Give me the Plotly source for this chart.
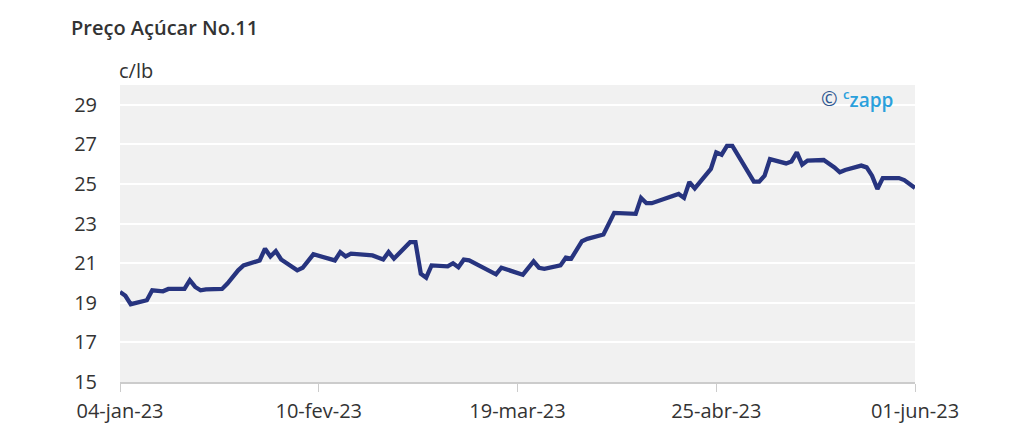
import plotly.graph_objects as go

dates = [
    "2023-01-04", "2023-01-05", "2023-01-06", "2023-01-09", "2023-01-10", "2023-01-12",
    "2023-01-13", "2023-01-16", "2023-01-17", "2023-01-18", "2023-01-19", "2023-01-20",
    "2023-01-23", "2023-01-24", "2023-01-26", "2023-01-27", "2023-01-30", "2023-01-31",
    "2023-02-01", "2023-02-02", "2023-02-03", "2023-02-06", "2023-02-07", "2023-02-09",
    "2023-02-13", "2023-02-14", "2023-02-15", "2023-02-16", "2023-02-20", "2023-02-22",
    "2023-02-23", "2023-02-24", "2023-02-27", "2023-02-28", "2023-03-01", "2023-03-02",
    "2023-03-03", "2023-03-06", "2023-03-07", "2023-03-08", "2023-03-09", "2023-03-10",
    "2023-03-15", "2023-03-16", "2023-03-20", "2023-03-22", "2023-03-23", "2023-03-24",
    "2023-03-27", "2023-03-28", "2023-03-29", "2023-03-31", "2023-04-01", "2023-04-04",
    "2023-04-06", "2023-04-10", "2023-04-11", "2023-04-12", "2023-04-13", "2023-04-18",
    "2023-04-19", "2023-04-20", "2023-04-21", "2023-04-24", "2023-04-25", "2023-04-26",
    "2023-04-27", "2023-04-28", "2023-05-02", "2023-05-03", "2023-05-04", "2023-05-05",
    "2023-05-08", "2023-05-09", "2023-05-10", "2023-05-11", "2023-05-12", "2023-05-15",
    "2023-05-17", "2023-05-18", "2023-05-19", "2023-05-22", "2023-05-23", "2023-05-24",
    "2023-05-25", "2023-05-26", "2023-05-29", "2023-05-30", "2023-06-01",
]
prices = [
    19.55, 19.35, 18.93, 19.13, 19.63, 19.58,
    19.70, 19.70, 20.14, 19.80, 19.63, 19.68,
    19.70, 19.97, 20.64, 20.89, 21.14, 21.73,
    21.34, 21.61, 21.19, 20.64, 20.77, 21.45,
    21.14, 21.56, 21.34, 21.48, 21.39, 21.19,
    21.56, 21.23, 22.06, 22.06, 20.47, 20.27,
    20.89, 20.84, 21.00, 20.80, 21.18, 21.14,
    20.44, 20.77, 20.42, 21.09, 20.77, 20.72,
    20.89, 21.28, 21.23, 22.11, 22.23, 22.45,
    23.54, 23.49, 24.30, 24.03, 24.03, 24.50,
    24.30, 25.10, 24.78, 25.76, 26.60, 26.48,
    26.93, 26.93, 25.12, 25.12, 25.42, 26.26,
    26.04, 26.14, 26.60, 25.98, 26.18, 26.21,
    25.84, 25.59, 25.71, 25.93, 25.84, 25.42,
    24.75, 25.30, 25.30, 25.20, 24.80,
]

x_tick_vals = ["2023-01-04", "2023-02-10", "2023-03-19", "2023-04-25", "2023-06-01"]
x_tick_text = ["04-jan-23", "10-fev-23", "19-mar-23", "25-abr-23", "01-jun-23"]
y_tick_vals = [15, 17, 19, 21, 23, 25, 27, 29]

FONT = "Open Sans"
TXT = "#333333"

fig = go.Figure()
fig.add_trace(go.Scatter(
    x=dates, y=prices, mode="lines",
    line=dict(color="#27347f", width=4.3),
    hoverinfo="x+y",
))

fig.update_layout(
    width=1022, height=431,
    margin=dict(l=112, r=115, t=77, b=57),
    paper_bgcolor="white",
    plot_bgcolor="#f1f1f1",
    showlegend=False,
    font=dict(family=FONT, size=20, color=TXT),
    xaxis=dict(
        range=["2023-01-04", "2023-06-01"],
        tickvals=x_tick_vals, ticktext=x_tick_text,
        showgrid=False, zeroline=False,
        showline=True, linecolor="#cccccc", linewidth=2,
        ticks="outside", ticklen=8, tickcolor="#cccccc", tickwidth=1,
        ticklabelstandoff=2,
        tickfont=dict(family=FONT, size=20, color=TXT),
    ),
    yaxis=dict(
        range=[15, 30],
        tickvals=y_tick_vals,
        showgrid=True, gridcolor="white", gridwidth=2,
        zeroline=False, showline=False,
        ticks="", ticklabelstandoff=22,
        tickfont=dict(family=FONT, size=20, color=TXT),
    ),
    annotations=[
        dict(text="Preço Açúcar No.11", xref="paper", yref="paper",
             x=-0.064, y=1.0, xanchor="left", yanchor="middle",
             yshift=58, showarrow=False,
             font=dict(family=FONT, size=20, color=TXT, weight=600)),
        dict(text="c/lb", xref="paper", yref="paper",
             x=-0.004, y=1.0, xanchor="left", yanchor="middle",
             yshift=15, showarrow=False,
             font=dict(family=FONT, size=20, color=TXT)),
        dict(text="©", xref="paper", yref="paper",
             x=0.9057, y=1.0, xanchor="right", yanchor="middle",
             yshift=-13, showarrow=False,
             font=dict(family=FONT, size=20, color="#2d5690")),
        dict(text="<sup>c</sup>zapp", xref="paper", yref="paper",
             x=0.975, y=1.0, xanchor="right", yanchor="middle",
             yshift=-14, showarrow=False,
             font=dict(family=FONT, size=19, color="#2aa0dc", weight=600)),
    ],
)

fig.write_html("out.html")
